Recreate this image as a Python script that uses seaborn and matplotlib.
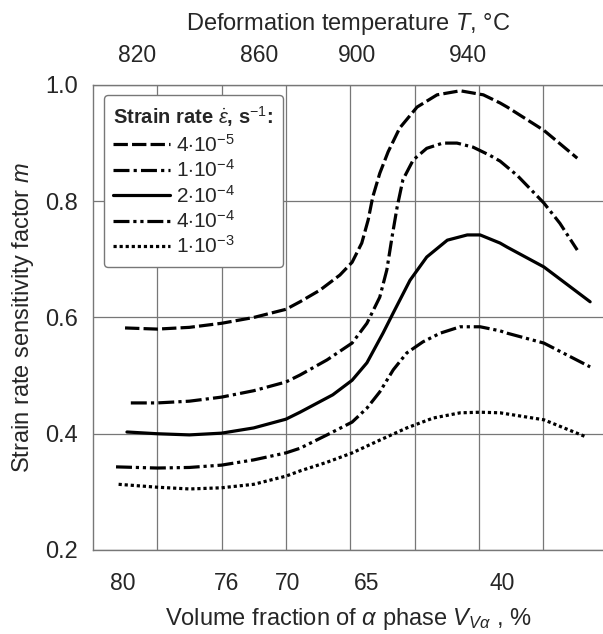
import pandas as pd
import matplotlib.pyplot as plt
import seaborn as sns

# x positions are in grid units (vertical grid lines sit at 1..7)
rate_labels = [r"4$\cdot$10$^{-5}$", r"1$\cdot$10$^{-4}$", r"2$\cdot$10$^{-4}$",
               r"4$\cdot$10$^{-4}$", r"1$\cdot$10$^{-3}$"]

x_45 = [0.50, 1.0, 1.5, 2.0, 2.5, 3.0, 3.22, 3.53, 3.84, 4.03, 4.18, 4.28, 4.35, 4.46,
        4.59, 4.77, 5.04, 5.35, 5.71, 6.07, 6.33, 6.44, 7.01, 7.26, 7.53]
m_45 = [0.582, 0.580, 0.583, 0.590, 0.600, 0.614, 0.627, 0.647, 0.673, 0.695, 0.728, 0.768,
        0.807, 0.848, 0.885, 0.926, 0.962, 0.983, 0.990, 0.983, 0.969, 0.962, 0.922, 0.899,
        0.874]

x_14 = [0.59, 1.0, 1.5, 2.0, 2.5, 3.0, 3.22, 3.64, 4.03, 4.26, 4.46, 4.57, 4.65, 4.73,
        4.82, 4.98, 5.19, 5.44, 5.66, 5.91, 6.17, 6.33, 6.6, 7.01, 7.26, 7.53]
m_14 = [0.453, 0.453, 0.456, 0.463, 0.474, 0.489, 0.501, 0.527, 0.556, 0.590, 0.635, 0.682,
        0.738, 0.790, 0.837, 0.871, 0.891, 0.900, 0.900, 0.893, 0.879, 0.869, 0.844, 0.797,
        0.762, 0.716]

x_24 = [0.53, 1.0, 1.5, 2.0, 2.5, 3.0, 3.22, 3.73, 4.03, 4.26, 4.51, 4.67, 4.93, 5.19,
        5.51, 5.82, 6.02, 6.33, 6.44, 7.01, 7.73]
m_24 = [0.403, 0.400, 0.398, 0.401, 0.410, 0.425, 0.437, 0.467, 0.492, 0.522, 0.573, 0.608,
        0.664, 0.704, 0.733, 0.742, 0.742, 0.728, 0.721, 0.687, 0.627]

x_44 = [0.36, 1.0, 1.5, 2.0, 2.5, 3.0, 3.22, 3.64, 4.03, 4.26, 4.46, 4.67, 4.88, 5.13,
        5.40, 5.71, 6.02, 6.33, 6.44, 7.01, 7.73]
m_44 = [0.343, 0.341, 0.342, 0.346, 0.355, 0.367, 0.375, 0.398, 0.420, 0.444, 0.472, 0.510,
        0.539, 0.558, 0.573, 0.584, 0.584, 0.577, 0.573, 0.556, 0.515]

x_13 = [0.40, 1.0, 1.5, 2.0, 2.5, 3.0, 3.22, 3.64, 4.03, 4.46, 4.88, 5.29, 5.71, 6.02,
        6.33, 7.01, 7.68]
m_13 = [0.313, 0.308, 0.305, 0.307, 0.313, 0.327, 0.336, 0.351, 0.367, 0.389, 0.410, 0.427,
        0.436, 0.437, 0.436, 0.424, 0.394]

bottom_ticks = [0.47, 2.08, 3.03, 4.25, 6.36]
bottom_labels = ["80", "76", "70", "65", "40"]
top_ticks = [0.68, 2.58, 4.10, 5.83]
top_labels = ["820", "860", "900", "940"]

frames = []
for lab, xs, ms in zip(rate_labels, [x_45, x_14, x_24, x_44, x_13],
                       [m_45, m_14, m_24, m_44, m_13]):
    frames.append(pd.DataFrame({"u": xs, "m": ms, "rate": lab}))
df = pd.concat(frames, ignore_index=True)

dash_map = {
    rate_labels[0]: (4.5, 1.3),
    rate_labels[1]: (5, 1.3, 1, 1.3),
    rate_labels[2]: "",
    rate_labels[3]: (5, 1.2, 1, 1.2, 1, 1.2),
    rate_labels[4]: (1, 0.9),
}

sns.set_style("white")
plt.rcParams["font.family"] = ["Liberation Sans", "DejaVu Sans"]
plt.rcParams["mathtext.fontset"] = "custom"
plt.rcParams["mathtext.rm"] = "Liberation Sans"
plt.rcParams["mathtext.it"] = "Liberation Sans:italic"
plt.rcParams["mathtext.bf"] = "Liberation Sans:bold"

gray = "#777777"
fig = plt.figure(figsize=(6.03, 6.34), dpi=100)
ax = fig.add_axes([0.154, 0.1325, 0.846, 0.7335])

sns.lineplot(data=df, x="u", y="m", style="rate", dashes=dash_map, color="black",
             linewidth=2.3, estimator=None, sort=False, ax=ax)

ax.set_xlim(0, 7.93)
ax.set_ylim(0.2, 1.0)
ax.set_yticks([0.2, 0.4, 0.6, 0.8, 1.0])
ax.set_yticklabels(["0.2", "0.4", "0.6", "0.8", "1.0"])
ax.set_xticks(bottom_ticks)
ax.set_xticklabels(bottom_labels)
ax.set_xticks([1, 2, 3, 4, 5, 6, 7], minor=True)
ax.tick_params(axis="x", which="major", direction="in", length=7, color=gray,
               labelsize=16.5, pad=16)
ax.tick_params(axis="x", which="minor", length=0)
ax.tick_params(axis="y", direction="out", length=8, color=gray, labelsize=17, pad=3)
ax.grid(which="minor", axis="x", color=gray, linewidth=0.9)
ax.grid(which="major", axis="y", color=gray, linewidth=0.9)
ax.grid(which="major", axis="x", visible=False)

for side in ["left", "top", "bottom"]:
    ax.spines[side].set_color(gray)
    ax.spines[side].set_linewidth(1.0)
ax.spines["right"].set_visible(False)

ax.set_xlabel(r"Volume fraction of $\alpha$ phase $V_{V\alpha}$ , %", fontsize=17, labelpad=8)
ax.set_ylabel(r"Strain rate sensitivity factor $m$", fontsize=17, labelpad=6)

secax = ax.secondary_xaxis("top")
secax.set_xticks(top_ticks)
secax.set_xticklabels(top_labels)
secax.tick_params(direction="in", length=0, labelsize=16.5, pad=13)
secax.spines["top"].set_visible(False)
secax.set_xlabel(r"Deformation temperature $T$, °C", fontsize=17, labelpad=10)

handles, labels = ax.get_legend_handles_labels()
leg = ax.legend(handles, labels, title=r"Strain rate $\dot{\varepsilon}$, s$^{-1}$:",
                loc="upper left", bbox_to_anchor=(0.022, 0.978), borderaxespad=0,
                fontsize=15, title_fontsize=14.5, handlelength=2.7, handletextpad=0.3,
                labelspacing=0.17, fancybox=True, edgecolor=gray, framealpha=1,
                borderpad=0.45)
leg._legend_box.align = "left"
leg._legend_box.sep = 3
leg.get_title().set_fontweight("bold")
leg.get_frame().set_linewidth(1.0)

fig.savefig("out.png", dpi=100)
